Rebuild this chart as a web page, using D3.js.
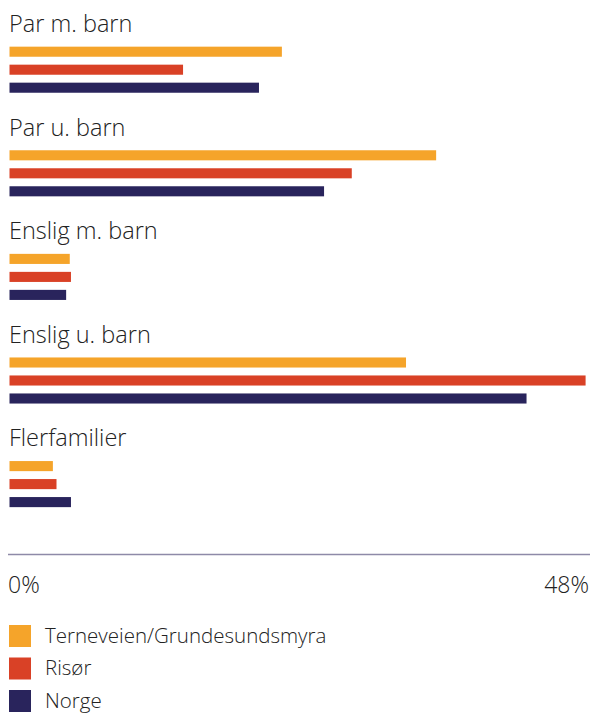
<!DOCTYPE html>
<html><head><meta charset="utf-8">
<script src="https://cdn.jsdelivr.net/npm/d3@7"></script>
<style>body{margin:0;background:#fff}svg{display:block}text{font-family:"Open Sans",sans-serif;font-weight:300;fill:#222}</style>
</head><body><svg id="c" width="590" height="713"></svg>
<script>
const categories = ["Par m. barn","Par u. barn","Enslig m. barn","Enslig u. barn","Flerfamilier"];
const seriesNames = ["Terneveien/Grundesundsmyra","Risør","Norge"];
const terneveien = [22.6, 35.4, 5.0, 32.9, 3.6];
const risor = [14.4, 28.4, 5.1, 47.8, 3.9];
const norge = [20.7, 26.1, 4.7, 42.9, 5.1];
const colors = ["#f5a42a","#d94126","#29245c"];
const tickLabels = ["0%","48%"];
const series = [terneveien, risor, norge];

const svg = d3.select("#c");
const x = d3.scaleLinear().domain([0,48]).range([9.5,588]);
const yG = d3.scaleBand().domain(categories).range([15,533]).paddingInner(0).paddingOuter(0);
const yS = d3.scaleBand().domain(seriesNames).range([27.7,81.7]).paddingInner(0.44).paddingOuter(0.22);

categories.forEach((c,i)=>{
  const g = svg.append("g").attr("transform",`translate(0,${yG(c)})`);
  g.append("text").attr("x",9).attr("y",17).attr("font-size",23.5).text(c);
  seriesNames.forEach((s,j)=>{
    g.append("rect").attr("x",x(0)).attr("y",yS(s)).attr("width",x(series[j][i])-x(0))
     .attr("height",yS.bandwidth()).attr("fill",colors[j]);
  });
});

svg.append("line").attr("x1",8).attr("x2",590).attr("y1",554.5).attr("y2",554.5)
  .attr("stroke","#8e8aa8").attr("stroke-width",1.5);
svg.append("text").attr("x",8).attr("y",592.5).attr("font-size",23).text(tickLabels[0]);
svg.append("text").attr("x",589).attr("y",592.5).attr("font-size",23).attr("text-anchor","end").text(tickLabels[1]);

const leg = d3.scalePoint().domain(seriesNames).range([625,690]);
seriesNames.forEach((s,j)=>{
  svg.append("rect").attr("x",9).attr("y",leg(s)).attr("width",22).attr("height",22).attr("fill",colors[j]);
  svg.append("text").attr("x",45).attr("y",leg(s)+17.5).attr("font-size",20.5).text(s);
});
</script></body></html>
